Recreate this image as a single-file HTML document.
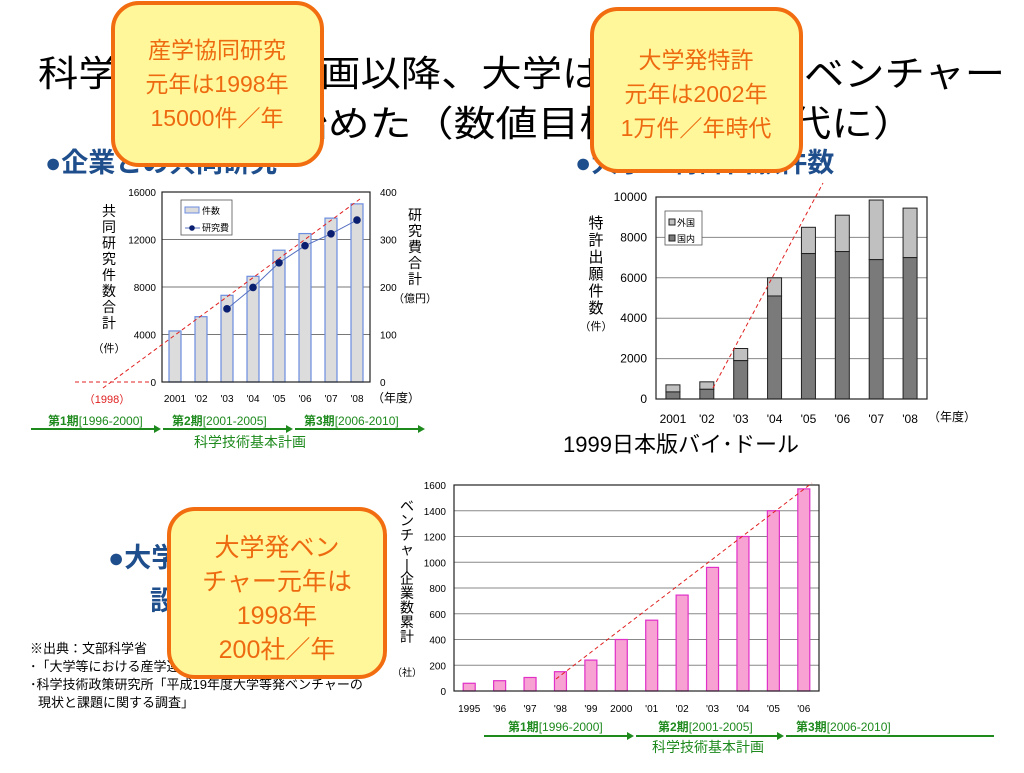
<!DOCTYPE html>
<html><head><meta charset="utf-8">
<style>
body{margin:0;background:#fff;}
svg text{font-family:"Liberation Sans","Noto Sans CJK JP",sans-serif;}
</style></head>
<body>
<svg id="s" width="1024" height="768" viewBox="0 0 1024 768" xmlns="http://www.w3.org/2000/svg">
<rect width="1024" height="768" fill="#fff"/>
<g font-size="36" fill="#000">
<text x="38" y="86" textLength="967" lengthAdjust="spacingAndGlyphs">科学技術基本計画以降、大学は産学連携、ベンチャー</text>
<text x="118" y="136" textLength="797" lengthAdjust="spacingAndGlyphs">取り組み始めた（数値目標を持つ時代に）</text>
</g>
<g font-weight="bold" fill="#1f4e8c" font-size="27">
<text x="45" y="172">●企業との共同研究</text>
<text x="575" y="172">●大学の特許出願件数</text>
<text x="108" y="567">●大学発ベンチャー</text>
<text x="150" y="610">設立数</text>
</g>
<g id="c1"></g>
<g id="c2"></g>
<g id="c3"></g>
<text x="563" y="452" font-size="22" fill="#000">1999日本版バイ･ドール</text>
<g font-size="13" fill="#000">
<text x="30" y="653">※出典：文部科学省</text>
<text x="30" y="671">･「大学等における産学連携等実施状況について」</text>
<text x="30" y="689">･科学技術政策研究所「平成19年度大学等発ベンチャーの</text>
<text x="38" y="707">現状と課題に関する調査」</text>
</g>
<g>
<rect x="113" y="3" width="209" height="162" rx="26" fill="#fff79a" stroke="#f26d10" stroke-width="4"/>
<g fill="#ee6a10" font-size="23" text-anchor="middle"><text x="217" y="58">産学協同研究</text><text x="217" y="92">元年は1998年</text><text x="217" y="126">15000件／年</text></g>
</g>
<g>
<rect x="592" y="9" width="209" height="162" rx="26" fill="#fff79a" stroke="#f26d10" stroke-width="4"/>
<g fill="#ee6a10" font-size="23" text-anchor="middle"><text x="696" y="68">大学発特許</text><text x="696" y="102">元年は2002年</text><text x="696" y="136">1万件／年時代</text></g>
</g>
<g>
<rect x="169" y="509" width="216" height="168" rx="26" fill="#fff79a" stroke="#f26d10" stroke-width="4"/>
<g fill="#ee6a10" font-size="25" text-anchor="middle"><text x="277" y="556">大学発ベン</text><text x="277" y="590">チャー元年は</text><text x="277" y="624">1998年</text><text x="277" y="658">200社／年</text></g>
</g>
</svg>
<script>
const NS="http://www.w3.org/2000/svg";
function mk(p,t,a,txt){const e=document.createElementNS(NS,t);for(const k in a)e.setAttribute(k,a[k]);if(txt!==undefined)e.textContent=txt;p.appendChild(e);return e;}

// Chart 1 data
const c1Years=["2001","'02","'03","'04","'05","'06","'07","'08"];
const c1Counts=[4300,5500,7300,8900,11100,12500,13800,15000];
const c1CostYears=["'03","'04","'05","'06","'07","'08"];
const c1Costs=[154,199,251,287,312,341];
const c1LeftTicks=[0,4000,8000,12000,16000];
const c1RightTicks=[0,100,200,300,400];
// Chart 2 data
const c2Years=["2001","'02","'03","'04","'05","'06","'07","'08"];
const c2Domestic=[350,480,1900,5100,7200,7300,6900,7000];
const c2Total=[700,850,2500,6000,8500,9100,9850,9450];
const c2Ticks=[0,2000,4000,6000,8000,10000];
// Chart 3 data
const c3Years=["1995","'96","'97","'98","'99","2000","'01","'02","'03","'04","'05","'06"];
const c3Ventures=[60,80,105,150,240,400,550,745,960,1200,1400,1570];
const c3Ticks=[0,200,400,600,800,1000,1200,1400,1600];

// ---- Chart 1
(function(){
const g=document.getElementById('c1');
const X0=162,X1=370,Y0=382,Y1=192;
const y=v=>Y0-(v/16000)*(Y0-Y1), yr=v=>Y0-(v/400)*(Y0-Y1);
const step=(X1-X0)/c1Years.length, x=i=>X0+step*(i+0.5);
c1LeftTicks.forEach(t=>{
 if(t>0&&t<16000){const l=mk(g,'line',{x1:X0,x2:X1,y1:y(t),y2:y(t),stroke:'#777','stroke-width':1});}
 const tt=mk(g,'text',{x:X0-6,y:y(t)+4,'font-size':10,'text-anchor':'end'},t);
 
});
c1RightTicks.forEach(t=>{const tt=mk(g,'text',{x:X1+10,y:yr(t)+4,'font-size':10},t);
 });
c1Counts.forEach((v,i)=>{const b=mk(g,'rect',{x:x(i)-6,y:y(v),width:12,height:Y0-y(v),fill:'#dcdcdc',stroke:'#6b8de0','stroke-width':1.2});
 
 const t=mk(g,'text',{x:x(i),y:402,'font-size':10,'text-anchor':'middle'},c1Years[i]);
 });
mk(g,'rect',{x:X0,y:Y1,width:X1-X0,height:Y0-Y1,fill:'none',stroke:'#222','stroke-width':1.2});
const pts=c1Costs.map((v,i)=>[x(c1Years.indexOf(c1CostYears[i])),yr(v)]);
const pl=mk(g,'polyline',{points:pts.map(p=>p.join(',')).join(' '),fill:'none',stroke:'#5570c0','stroke-width':1});

pts.forEach(p=>{const c=mk(g,'circle',{cx:p[0],cy:p[1],r:3.8,fill:'#0a1f70'});});
mk(g,'line',{x1:75,y1:382,x2:150,y2:382,stroke:'#e02020','stroke-width':1,'stroke-dasharray':'4,3'});
mk(g,'line',{x1:103,y1:388,x2:360,y2:199,stroke:'#e02020','stroke-width':1,'stroke-dasharray':'4,3'});
mk(g,'text',{x:107,y:403,'font-size':11,fill:'#e02020','text-anchor':'middle'},'（1998）');
mk(g,'text',{x:372,y:402,'font-size':12},'（年度）');
// legend
mk(g,'rect',{x:181,y:200,width:51,height:35,fill:'#fff',stroke:'#555','stroke-width':0.8});
mk(g,'rect',{x:185,y:207,width:14,height:6,fill:'#dcdcdc',stroke:'#6b8de0'});
mk(g,'text',{x:202,y:214,'font-size':9},'件数');
mk(g,'line',{x1:185,x2:200,y1:228,y2:228,stroke:'#5570c0'});
mk(g,'circle',{cx:192,cy:228,r:2.8,fill:'#0a1f70'});
mk(g,'text',{x:202,y:231,'font-size':9},'研究費');
// axis titles
const lt='共同研究件数合計';[...lt].forEach((c,i)=>mk(g,'text',{x:109,y:216+i*16,'font-size':14,'text-anchor':'middle'},c));
mk(g,'text',{x:109,y:352,'font-size':11,'text-anchor':'middle'},'（件）');
[...'研究費合計'].forEach((c,i)=>mk(g,'text',{x:415,y:220+i*16,'font-size':14,'text-anchor':'middle'},c));
mk(g,'text',{x:415,y:302,'font-size':11,'text-anchor':'middle'},'（億円）');
// periods
const gr='#1e8a1e';
[[31,161,'第1期','[1996-2000]',48],[163,293,'第2期','[2001-2005]',172],[295,425,'第3期','[2006-2010]',304]].forEach(p=>{
 mk(g,'line',{x1:p[0],x2:p[1]-6,y1:429,y2:429,stroke:gr,'stroke-width':2});
 mk(g,'polygon',{points:`${p[1]},429 ${p[1]-7},425 ${p[1]-7},433`,fill:gr});
 const t=mk(g,'text',{x:p[4],y:425,'font-size':12,fill:gr});
 mk(t,'tspan',{'font-weight':'bold'},p[2]);mk(t,'tspan',{},p[3]);
});
mk(g,'text',{x:250,y:447,'font-size':14,fill:gr,'text-anchor':'middle'},'科学技術基本計画');
})();

// ---- Chart 2
(function(){
const g=document.getElementById('c2');
const X0=656,X1=927,Y0=399,Y1=197;
const y=v=>Y0-(v/10000)*(Y0-Y1);
const step=(X1-X0)/c2Years.length,x=i=>X0+step*(i+0.5);
c2Ticks.forEach(t=>{
 if(t>0&&t<10000){const l=mk(g,'line',{x1:X0,x2:X1,y1:y(t),y2:y(t),stroke:'#888','stroke-width':1});}
 const tt=mk(g,'text',{x:X0-9,y:y(t)+4,'font-size':12,'text-anchor':'end'},t);
 });
c2Total.forEach((v,i)=>{
 const f=mk(g,'rect',{x:x(i)-7,y:y(v),width:14,height:y(c2Domestic[i])-y(v),fill:'#c0c0c0',stroke:'#222','stroke-width':1});
 
 const d=mk(g,'rect',{x:x(i)-7,y:y(c2Domestic[i]),width:14,height:Y0-y(c2Domestic[i]),fill:'#7a7a7a',stroke:'#222','stroke-width':1});
 
 const t=mk(g,'text',{x:x(i),y:423,'font-size':12,'text-anchor':'middle'},c2Years[i]);
 });
mk(g,'rect',{x:X0,y:Y1,width:X1-X0,height:Y0-Y1,fill:'none',stroke:'#222','stroke-width':1.2});
mk(g,'line',{x1:713,y1:388,x2:823,y2:183,stroke:'#e02020','stroke-width':1,'stroke-dasharray':'4,3'});
mk(g,'text',{x:928,y:421,'font-size':12},'（年度）');
mk(g,'rect',{x:665,y:211,width:37,height:34,fill:'#fff',stroke:'#555','stroke-width':0.8});
mk(g,'rect',{x:669,y:219,width:6,height:6,fill:'#c0c0c0',stroke:'#222'});
mk(g,'text',{x:677,y:226,'font-size':9},'外国');
mk(g,'rect',{x:669,y:235,width:6,height:6,fill:'#7a7a7a',stroke:'#222'});
mk(g,'text',{x:677,y:242,'font-size':9},'国内');
[...'特許出願件数'].forEach((c,i)=>mk(g,'text',{x:596,y:228+i*17,'font-size':15,'text-anchor':'middle'},c));
mk(g,'text',{x:596,y:330,'font-size':11,'text-anchor':'middle'},'（件）');
})();

// ---- Chart 3
(function(){
const g=document.getElementById('c3');
const X0=454,X1=819,Y0=691,Y1=485;
const y=v=>Y0-(v/1600)*(Y0-Y1);
const step=(X1-X0)/c3Years.length,x=i=>X0+step*(i+0.5);
c3Ticks.forEach(t=>{
 if(t>0&&t<1600){const l=mk(g,'line',{x1:X0,x2:X1,y1:y(t),y2:y(t),stroke:'#888','stroke-width':1});}
 const tt=mk(g,'text',{x:X0-8,y:y(t)+4,'font-size':10,'text-anchor':'end'},t);
 });
c3Ventures.forEach((v,i)=>{
 const b=mk(g,'rect',{x:x(i)-6,y:y(v),width:12,height:Y0-y(v),fill:'#f7a2d2',stroke:'#e030c8','stroke-width':1.2});
 
 const t=mk(g,'text',{x:x(i),y:712,'font-size':10,'text-anchor':'middle'},c3Years[i]);
 });
mk(g,'rect',{x:X0,y:Y1,width:X1-X0,height:Y0-Y1,fill:'none',stroke:'#222','stroke-width':1.2});
mk(g,'line',{x1:556,y1:679,x2:812,y2:483,stroke:'#e02020','stroke-width':1,'stroke-dasharray':'4,3'});
[...'ベンチャー企業数累計'].forEach((c,i)=>mk(g,'text',{x:407,y:511+i*14.5,'font-size':14,'text-anchor':'middle'},c==='ー'?'|':c));
mk(g,'text',{x:407,y:676,'font-size':10,'text-anchor':'middle'},'（社）');
const gr='#1e8a1e';
[[484,634,'第1期','[1996-2000]',508],[636,784,'第2期','[2001-2005]',658],[786,1000,'第3期','[2006-2010]',796]].forEach(p=>{
 mk(g,'line',{x1:p[0],x2:Math.min(p[1],1000)-6,y1:736,y2:736,stroke:gr,'stroke-width':2});
 if(p[1]<1000)mk(g,'polygon',{points:`${p[1]},736 ${p[1]-7},732 ${p[1]-7},740`,fill:gr});
 const t=mk(g,'text',{x:p[4],y:731,'font-size':12,fill:gr});
 mk(t,'tspan',{'font-weight':'bold'},p[2]);mk(t,'tspan',{},p[3]);
});
mk(g,'text',{x:708,y:752,'font-size':14,fill:gr,'text-anchor':'middle'},'科学技術基本計画');
})();
</script>
</body></html>
